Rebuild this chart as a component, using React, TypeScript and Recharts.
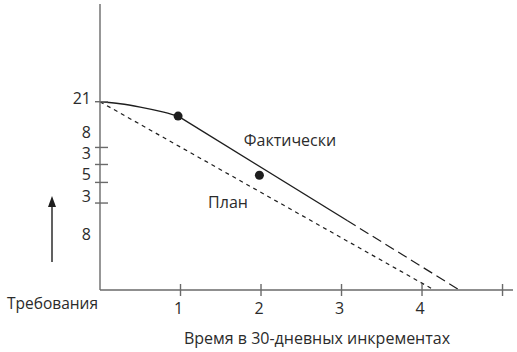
import { ComposedChart, Customized, Line, ReferenceDot, XAxis, YAxis } from "recharts";

// Burndown: plan vs actual requirements over 30-day increments
const actualCurve = [
  { x: 0, y: 21 },
  { x: 0.25, y: 20.78 },
  { x: 0.5, y: 20.4 },
  { x: 0.75, y: 19.92 },
  { x: 0.97, y: 19.4 },
];
const actualStraight = [
  { x: 0.97, y: 19.4 },
  { x: 3.07, y: 7.75 },
];
const actualForecast = [
  { x: 3.07, y: 7.75 },
  { x: 4.465, y: 0 },
];
const plan = [
  { x: 0, y: 21 },
  { x: 4.15, y: 0 },
];
const checkpoints = [
  { x: 0.97, y: 19.4 },
  { x: 1.98, y: 12.8 },
];
const xTicks = [1, 2, 3, 4, 5];
const xTickLabels: Record<number, string> = { 1: "1", 2: "2", 3: "3", 4: "4" };
const yTickMarks = [21, 15.9, 14, 12, 9.7];
const yLabels = [
  { value: 21.4, text: "21" },
  { value: 17.6, text: "8" },
  { value: 15.3, text: "3" },
  { value: 12.9, text: "5" },
  { value: 10.5, text: "3" },
  { value: 6.2, text: "8" },
];
const seriesLabels = [
  { x: 2.36, y: 16.7, text: "Фактически" },
  { x: 1.59, y: 9.8, text: "План" },
];

const FONT = "'Open Sans', sans-serif";
const TEXT = "#2b2b2b";
const AXIS = "#6a6a6a";
const LINE = "#1e1e1e";

const YTick = (props: any) => {
  const { x, y, payload } = props;
  const v = payload.value;
  if (yTickMarks.includes(v)) {
    return <line x1={x - 5} x2={x + 8} y1={y} y2={y} stroke={AXIS} strokeWidth={1.4} />;
  }
  const lbl = yLabels.find((l) => l.value === v);
  return (
    <text x={x - 9} y={y} textAnchor="end" dominantBaseline="central" fontFamily={FONT} fontSize={16} fill={TEXT}>
      {lbl ? lbl.text : ""}
    </text>
  );
};

const XTick = (props: any) => {
  const { x, y, payload } = props;
  const v = payload.value;
  return (
    <g>
      <line x1={x} x2={x} y1={y - 6} y2={y + 6} stroke={AXIS} strokeWidth={1.4} />
      <text x={x - 2} y={y + 18} textAnchor="middle" dominantBaseline="central" fontFamily={FONT} fontSize={16} fill={TEXT}>
        {xTickLabels[v] ?? ""}
      </text>
    </g>
  );
};

const Decorations = () => (
  <g fontFamily={FONT} fill={TEXT}>
    <text x={7} y={303} dominantBaseline="central" fontSize={15.5}>
      Требования
    </text>
    <text x={317} y={338} textAnchor="middle" dominantBaseline="central" fontSize={16}>
      Время в 30-дневных инкрементах
    </text>
    <line x1={52} x2={52} y1={204} y2={262} stroke={LINE} strokeWidth={1.4} />
    <path d="M52 196 L48 207 L56 207 Z" fill={LINE} />
  </g>
);

export default function App() {
  return (
    <div style={{ position: "absolute", left: 0, top: 0, background: "#fff" }}>
      <ComposedChart width={517} height={352} margin={{ top: 4, right: 4, bottom: 0, left: 0 }}>
        <XAxis
          type="number"
          dataKey="x"
          domain={[0, 5.13]}
          allowDataOverflow
          ticks={xTicks}
          interval={0}
          tick={<XTick />}
          tickLine={false}
          tickSize={0}
          tickMargin={0}
          height={62}
          stroke={AXIS}
          strokeWidth={1.4}
        />
        <YAxis
          type="number"
          dataKey="y"
          domain={[0, 31.9]}
          allowDataOverflow
          ticks={[...yTickMarks, ...yLabels.map((l) => l.value)].sort((a, b) => a - b)}
          interval={0}
          tick={<YTick />}
          tickLine={false}
          tickSize={0}
          tickMargin={0}
          width={100}
          stroke={AXIS}
          strokeWidth={1.4}
        />
        <Line
          data={plan}
          dataKey="y"
          type="linear"
          stroke={LINE}
          strokeWidth={1.2}
          strokeDasharray="4 4"
          dot={false}
          isAnimationActive={false}
        />
        <Line
          data={actualCurve}
          dataKey="y"
          type="monotone"
          stroke={LINE}
          strokeWidth={1.4}
          dot={false}
          isAnimationActive={false}
        />
        <Line
          data={actualStraight}
          dataKey="y"
          type="linear"
          stroke={LINE}
          strokeWidth={1.4}
          dot={false}
          isAnimationActive={false}
        />
        <Line
          data={actualForecast}
          dataKey="y"
          type="linear"
          stroke={LINE}
          strokeWidth={1.2}
          strokeDasharray="10 5"
          dot={false}
          isAnimationActive={false}
        />
        {checkpoints.map((p, i) => (
          <ReferenceDot key={i} x={p.x} y={p.y} r={4.5} fill={LINE} stroke="none" />
        ))}
        {seriesLabels.map((s) => (
          <ReferenceDot
            key={s.text}
            x={s.x}
            y={s.y}
            r={0}
            stroke="none"
            fill="none"
            label={{ value: s.text, position: "center", fontFamily: FONT, fontSize: 16, fill: TEXT }}
          />
        ))}
        <Customized component={Decorations} />
      </ComposedChart>
    </div>
  );
}
